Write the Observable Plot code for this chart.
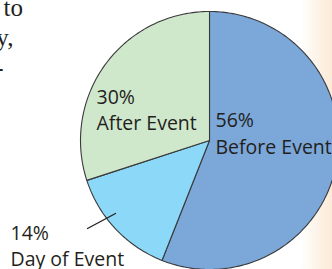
<!DOCTYPE html>
<html>
<head>
<meta charset="utf-8">
<script src="https://cdn.jsdelivr.net/npm/d3@7"></script>
<script src="https://cdn.jsdelivr.net/npm/@observablehq/plot@0.6"></script>
<style>
  html, body { margin: 0; padding: 0; background: #fff; }
</style>
</head>
<body>
<div id="chart"></div>
<script>
// Data
const categories = ["Before Event", "Day of Event", "After Event"];
const percents = [56, 14, 30];
const colors = ["#7BA7D9", "#8CD8F8", "#CFE8CC"];
const percentLabels = ["56%", "14%", "30%"];
const fragmentText = ["to", "y,", "-"];

// Layout
const W = 332, H = 269;
const cx = 209, cy = 140, R = 129;

const pie = d3.pie().sort(null).value(d => d.value)(
  categories.map((c, i) => ({category: c, value: percents[i], color: colors[i]}))
);

// Wedge outlines from the computed angles (clockwise from top)
const wedgePts = [];
pie.forEach((p, k) => {
  const n = Math.max(8, Math.ceil((p.endAngle - p.startAngle) * 60));
  wedgePts.push({k, x: cx, y: cy, color: p.data.color});
  for (let i = 0; i <= n; i++) {
    const a = p.startAngle + (p.endAngle - p.startAngle) * i / n;
    wedgePts.push({k, x: cx + R * Math.sin(a), y: cy - R * Math.cos(a), color: p.data.color});
  }
  wedgePts.push({k, x: cx, y: cy, color: p.data.color});
});

// Label placement (layout): baseline of percent line, baseline of name line
const labelPos = [
  {x: 215, y1: 126, y2: 153},
  {x: 10, y1: 239, y2: 265},
  {x: 96, y1: 103, y2: 129}
];
const pctLabels = percentLabels.map((t, i) => ({text: t, x: labelPos[i].x, y: labelPos[i].y1}));
const nameLabels = categories.map((t, i) => ({text: t, x: labelPos[i].x, y: labelPos[i].y2}));

const fragPos = [
  {x: 3, y: 15, anchor: "start"},
  {x: 13, y: 45, anchor: "end"},
  {x: 3, y: 75, anchor: "end"}
];
const frags = fragmentText.map((t, i) => ({text: t, ...fragPos[i]}));

// leader line for the small slice
const leader = [{x: 87, y: 228}, {x: 115, y: 213}];

const chart = Plot.plot({
  width: W,
  height: H,
  margin: 0,
  x: {domain: [0, W], axis: null},
  y: {domain: [0, H], range: [0, H], axis: null},
  style: {
    background: "linear-gradient(to right, #ffffff 0px, #ffffff 300px, #FCEAD6 332px)",
    overflow: "hidden"
  },
  marks: [
    Plot.line(wedgePts, {x: "x", y: "y", z: "k", fill: "color", stroke: "#3a3a3a", strokeWidth: 1.1, curve: "linear"}),
    Plot.line(leader, {x: "x", y: "y", stroke: "#231F20", strokeWidth: 1.3}),
    Plot.text(pctLabels, {x: "x", y: "y", text: "text", textAnchor: "start", lineAnchor: "bottom",
      fontFamily: "Open Sans", fontSize: 19.5, fill: "#231F20"}),
    Plot.text(nameLabels, {x: "x", y: "y", text: "text", textAnchor: "start", lineAnchor: "bottom",
      fontFamily: "Open Sans", fontSize: 19.5, fill: "#231F20"}),
    Plot.text(frags.filter(d => d.anchor === "start"), {x: "x", y: "y", text: "text", textAnchor: "start", lineAnchor: "bottom",
      fontFamily: "Liberation Serif", fontSize: 25, fill: "#231F20"}),
    Plot.text(frags.filter(d => d.anchor === "end"), {x: "x", y: "y", text: "text", textAnchor: "end", lineAnchor: "bottom",
      fontFamily: "Liberation Serif", fontSize: 25, fill: "#231F20"})
  ]
});
document.getElementById("chart").appendChild(chart);
</script>
</body>
</html>
